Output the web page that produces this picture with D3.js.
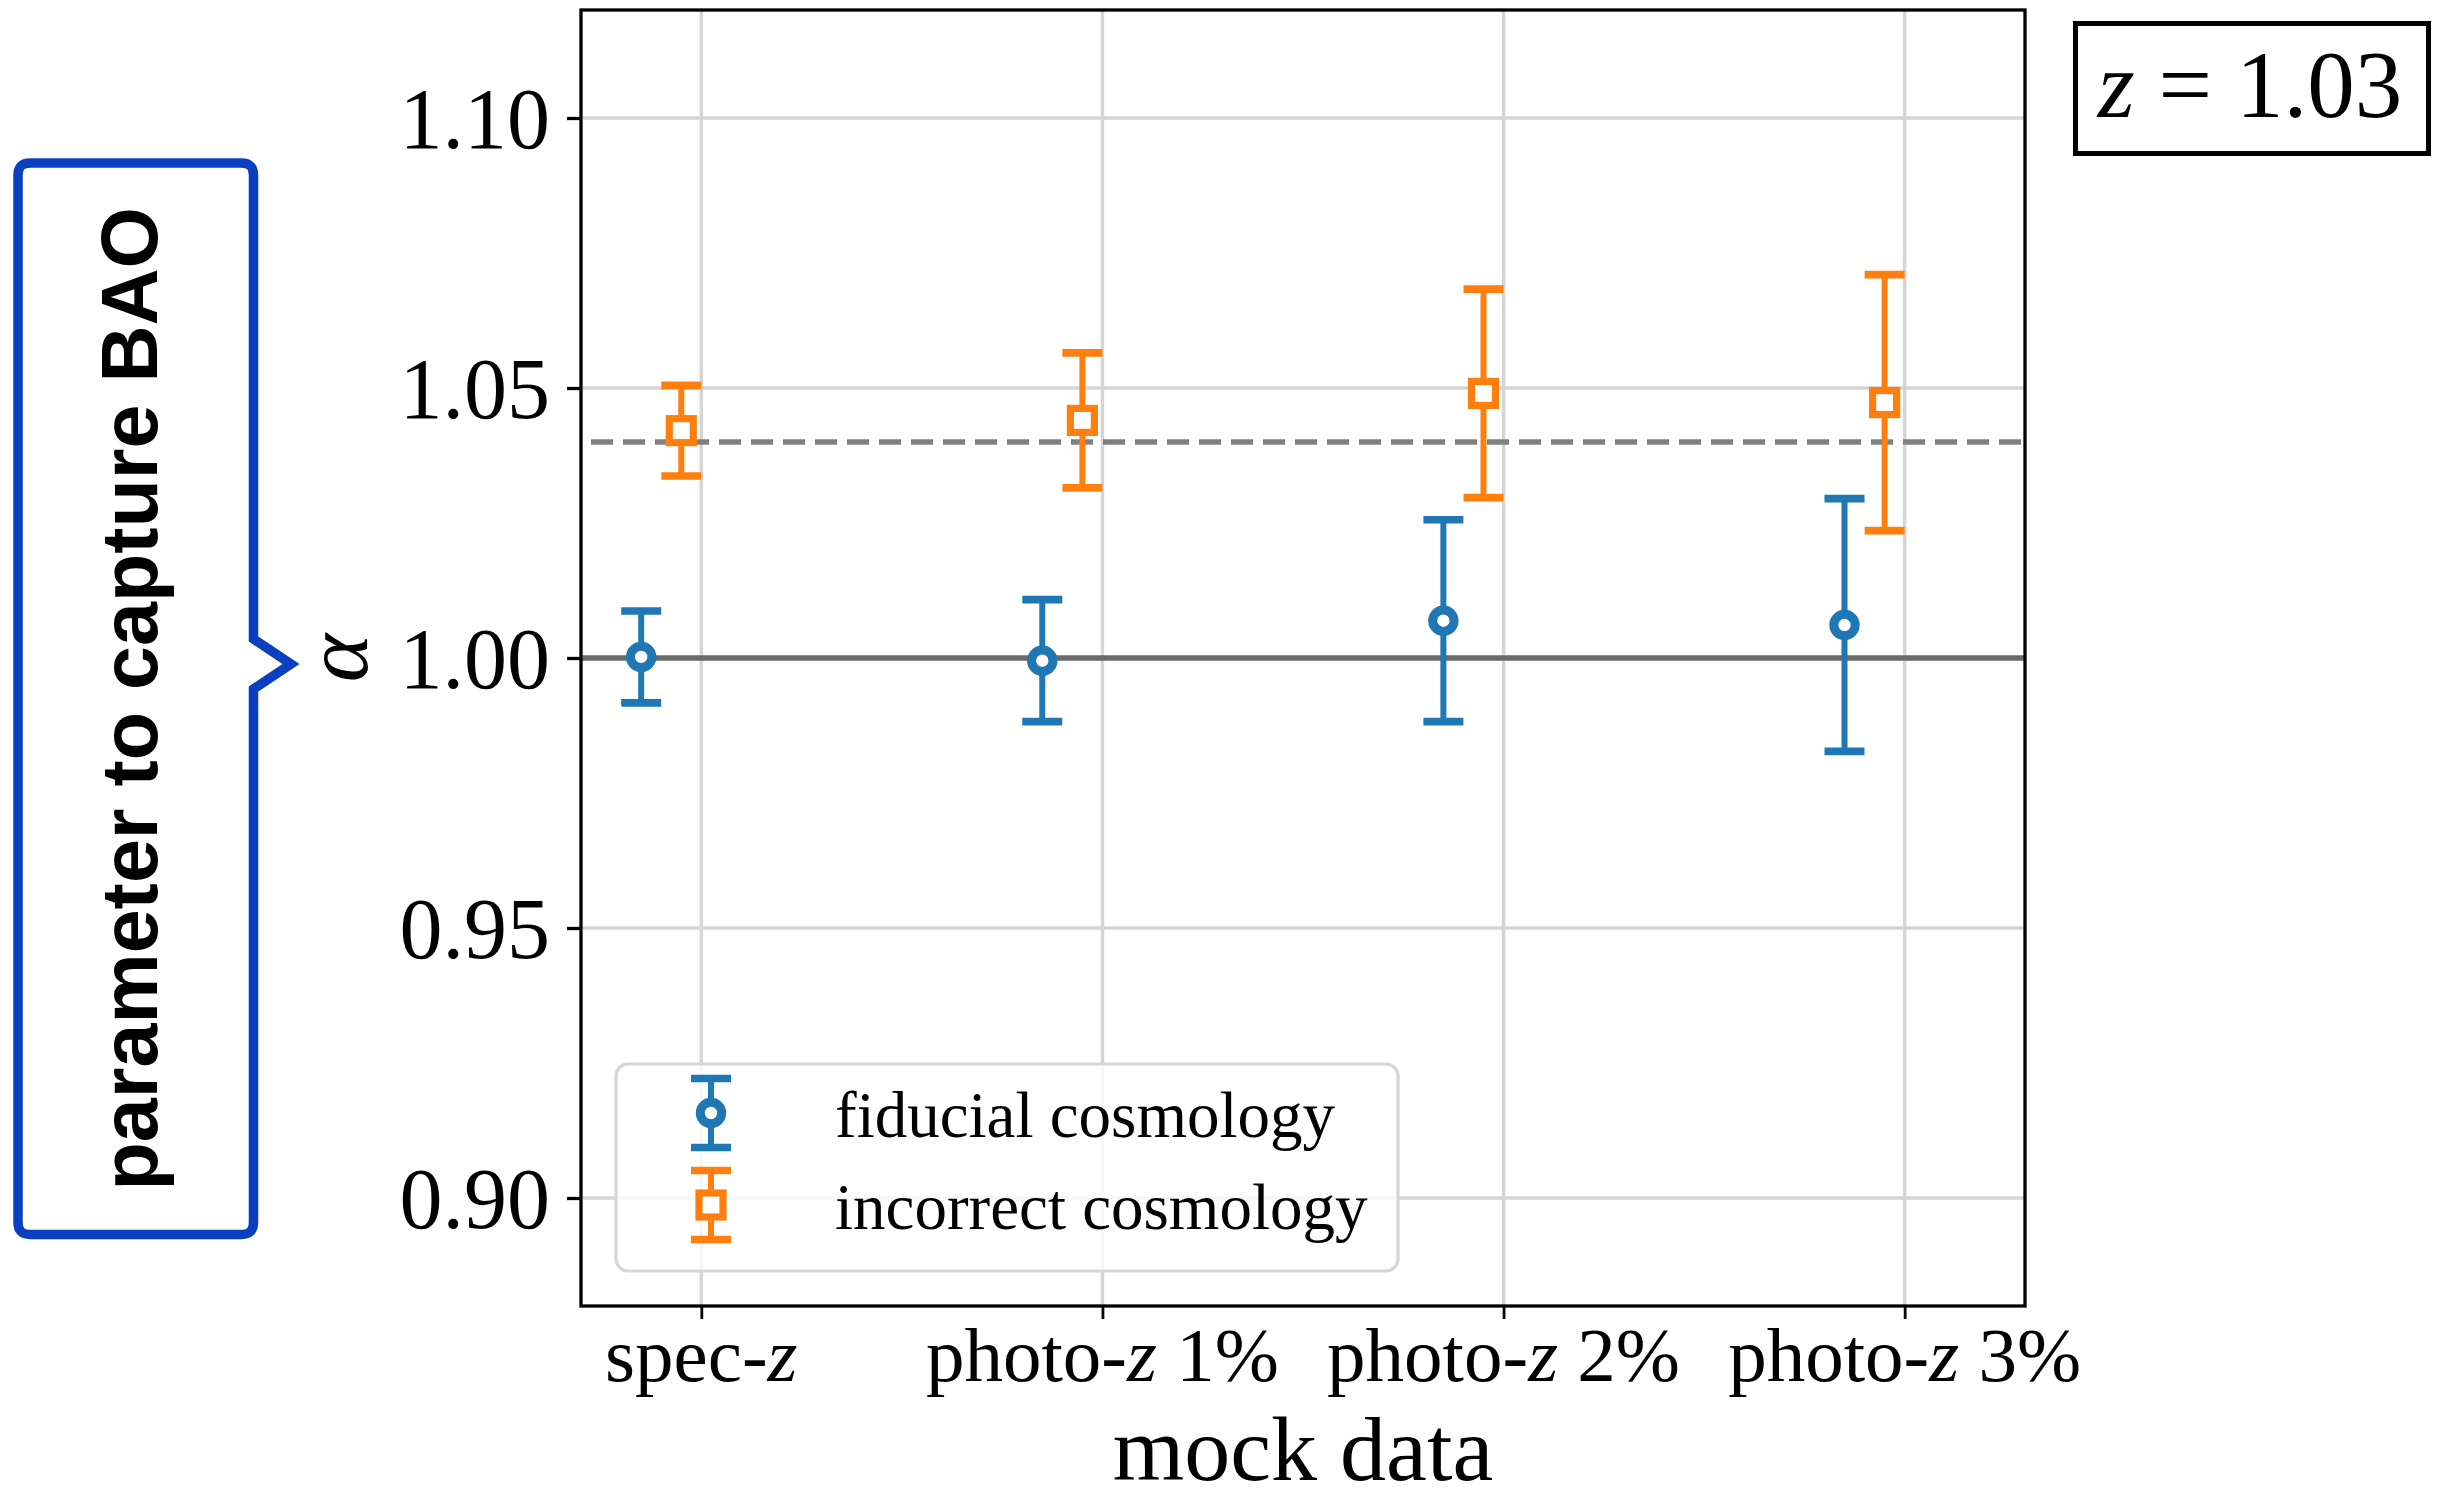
<!DOCTYPE html>
<html>
<head>
<meta charset="utf-8">
<script src="https://cdn.jsdelivr.net/npm/d3@7"></script>
<style>
  html, body { margin: 0; padding: 0; background: #fff; }
  svg { display: block; }
</style>
</head>
<body>
<svg id="chart" width="2440" height="1502"></svg>
<script>
// BAO dilation parameter alpha measured from mock catalogues
const categories = ["spec-z", "photo-z 1%", "photo-z 2%", "photo-z 3%"];
const fiducialAlpha = [1.0002, 0.9995, 1.0069, 1.0061];
const fiducialErr = [0.0085, 0.0113, 0.0187, 0.0234];
const incorrectAlpha = [1.0421, 1.0440, 1.0490, 1.0473];
const incorrectErr = [0.0084, 0.0125, 0.0193, 0.0237];
const seriesNames = ["fiducial cosmology", "incorrect cosmology"];
const yTicks = [0.90, 0.95, 1.00, 1.05, 1.10];
const referenceAlpha = 1.00;   // expected value for the fiducial cosmology
const shiftedAlpha = 1.04;     // expected value for the incorrect cosmology
const redshift = "1.03";
const calloutText = "parameter to capture BAO";

const BLUE = "#1f77b4", ORANGE = "#ff7f0e";
const SERIF = "'Liberation Serif', 'DejaVu Serif', serif";

const svg = d3.select("#chart");
const plot = { left: 581, right: 2025, top: 10, bottom: 1306 };

const x = d3.scaleLinear().domain([-0.3, 3.3]).range([plot.left, plot.right]);
const y = d3.scaleLinear().domain([0.88, 1.12]).range([plot.bottom, plot.top]);

// grid
const grid = svg.append("g");
grid.selectAll("line.gx").data(categories).join("line")
  .attr("x1", (d, i) => x(i)).attr("x2", (d, i) => x(i))
  .attr("y1", plot.top).attr("y2", plot.bottom)
  .attr("stroke", "#d5d5d5").attr("stroke-width", 3.5);
grid.selectAll("line.gy").data(yTicks).join("line")
  .attr("x1", plot.left).attr("x2", plot.right)
  .attr("y1", d => y(d)).attr("y2", d => y(d))
  .attr("stroke", "#d5d5d5").attr("stroke-width", 3.5);

// reference levels
svg.append("line")
  .attr("x1", plot.left).attr("x2", plot.right)
  .attr("y1", y(referenceAlpha)).attr("y2", y(referenceAlpha))
  .attr("stroke", "#6a6a6a").attr("stroke-width", 5.5);
svg.append("line")
  .attr("x1", plot.left + 10).attr("x2", plot.right)
  .attr("y1", y(shiftedAlpha)).attr("y2", y(shiftedAlpha))
  .attr("stroke", "#808080").attr("stroke-width", 5.5)
  .attr("stroke-dasharray", "22 10");

// error bars
const capHalf = 20;
function drawErrorbar(g, cx, cy, top, bottom, color, shape) {
  g.append("line").attr("x1", cx).attr("x2", cx).attr("y1", top).attr("y2", bottom)
    .attr("stroke", color).attr("stroke-width", 6);
  [top, bottom].forEach(v => {
    g.append("line").attr("x1", cx - capHalf).attr("x2", cx + capHalf)
      .attr("y1", v).attr("y2", v)
      .attr("stroke", color).attr("stroke-width", 7.7);
  });
  if (shape === "circle") {
    g.append("circle").attr("cx", cx).attr("cy", cy).attr("r", 10.7)
      .attr("fill", "#fff").attr("stroke", color).attr("stroke-width", 9);
  } else {
    g.append("rect").attr("x", cx - 12).attr("y", cy - 12)
      .attr("width", 24).attr("height", 24)
      .attr("fill", "#fff").attr("stroke", color).attr("stroke-width", 7.2);
  }
}

const series = [
  { name: seriesNames[0], values: fiducialAlpha, errors: fiducialErr, color: BLUE, shape: "circle", offset: -0.15 },
  { name: seriesNames[1], values: incorrectAlpha, errors: incorrectErr, color: ORANGE, shape: "square", offset: -0.05 }
];

const marks = svg.append("g");
series.forEach(s => {
  s.values.forEach((v, i) => {
    drawErrorbar(marks, x(i + s.offset), y(v), y(v + s.errors[i]), y(v - s.errors[i]), s.color, s.shape);
  });
});

// legend
const legend = svg.append("g");
legend.append("rect")
  .attr("x", 616).attr("y", 1064).attr("width", 782).attr("height", 207)
  .attr("rx", 12).attr("ry", 12)
  .attr("fill", "rgba(255,255,255,0.8)").attr("stroke", "#d6d6d6").attr("stroke-width", 3.2);
series.forEach((s, k) => {
  const cy = 1113 + k * 92;
  drawErrorbar(legend, 711, cy, cy - 34.5, cy + 34.5, s.color, s.shape);
  legend.append("text")
    .attr("x", 835).attr("y", cy + 24)
    .attr("font-family", SERIF).attr("font-size", 65)
    .attr("fill", "#000")
    .text(s.name);
});

// axes frame
svg.append("rect")
  .attr("x", plot.left).attr("y", plot.top)
  .attr("width", plot.right - plot.left).attr("height", plot.bottom - plot.top)
  .attr("fill", "none").attr("stroke", "#000").attr("stroke-width", 3.3);

// y axis
const yAxis = svg.append("g")
  .attr("transform", `translate(${plot.left},0)`)
  .call(d3.axisLeft(y).tickValues(yTicks).tickFormat(d3.format(".2f")).tickSize(14).tickPadding(17));
yAxis.select(".domain").remove();
yAxis.selectAll(".tick line").attr("stroke", "#000").attr("stroke-width", 3.3);
yAxis.selectAll(".tick text")
  .attr("font-family", SERIF).attr("font-size", 86).attr("fill", "#000")
  .attr("dy", "0.34em");

// x axis
const xAxis = svg.append("g")
  .attr("transform", `translate(0,${plot.bottom})`)
  .call(d3.axisBottom(x).tickValues(d3.range(categories.length)).tickFormat("").tickSize(13));
xAxis.select(".domain").remove();
xAxis.selectAll(".tick line").attr("stroke", "#000").attr("stroke-width", 2.8);

const xLabels = svg.append("g");
categories.forEach((c, i) => {
  const t = xLabels.append("text")
    .attr("x", x(i)).attr("y", 1381)
    .attr("text-anchor", "middle")
    .attr("font-family", SERIF).attr("font-size", 77).attr("fill", "#000");
  c.split(/(z)/).filter(p => p.length).forEach(p => {
    t.append("tspan").attr("font-style", p === "z" ? "italic" : "normal").text(p);
  });
});

// axis titles
svg.append("text")
  .attr("x", (plot.left + plot.right) / 2).attr("y", 1480)
  .attr("text-anchor", "middle")
  .attr("font-family", SERIF).attr("font-size", 92).attr("fill", "#000")
  .text("mock data");

svg.append("text")
  .attr("transform", `translate(367,${y(referenceAlpha)}) rotate(-90)`)
  .attr("text-anchor", "middle")
  .attr("font-family", SERIF).attr("font-style", "italic").attr("font-size", 92).attr("fill", "#000")
  .text("α");

// redshift box
svg.append("rect")
  .attr("x", 2075.5).attr("y", 23.5).attr("width", 353).attr("height", 130)
  .attr("fill", "#fff").attr("stroke", "#000").attr("stroke-width", 5);
const zt = svg.append("text")
  .attr("x", 2250).attr("y", 117)
  .attr("text-anchor", "middle")
  .attr("font-family", SERIF).attr("font-size", 95).attr("fill", "#000");
zt.append("tspan").attr("font-style", "italic").text("z");
zt.append("tspan").text(" = " + redshift);

// callout bracket pointing at the alpha label
const ay = y(referenceAlpha);
const bx0 = 18, bx1 = 253.5, by0 = 163, by1 = 1234.5, r = 12;
const callout = d3.path();
callout.moveTo(bx0 + r, by0);
callout.lineTo(bx1 - r, by0);
callout.quadraticCurveTo(bx1, by0, bx1, by0 + r);
callout.lineTo(bx1, ay - 19);
callout.lineTo(291, ay + 6);
callout.lineTo(bx1, ay + 31);
callout.lineTo(bx1, by1 - r);
callout.quadraticCurveTo(bx1, by1, bx1 - r, by1);
callout.lineTo(bx0 + r, by1);
callout.quadraticCurveTo(bx0, by1, bx0, by1 - r);
callout.lineTo(bx0, by0 + r);
callout.quadraticCurveTo(bx0, by0, bx0 + r, by0);
callout.closePath();
svg.append("path")
  .attr("d", callout.toString())
  .attr("fill", "#fff").attr("stroke", "#0a40bf").attr("stroke-width", 9.5)
  .attr("stroke-linejoin", "miter");

svg.append("text")
  .attr("transform", `translate(157,${(by0 + by1) / 2}) rotate(-90)`)
  .attr("text-anchor", "middle")
  .attr("font-family", "'Liberation Sans', Arial, sans-serif").attr("font-weight", "bold")
  .attr("font-size", 79).attr("fill", "#000")
  .text(calloutText);
</script>
</body>
</html>
